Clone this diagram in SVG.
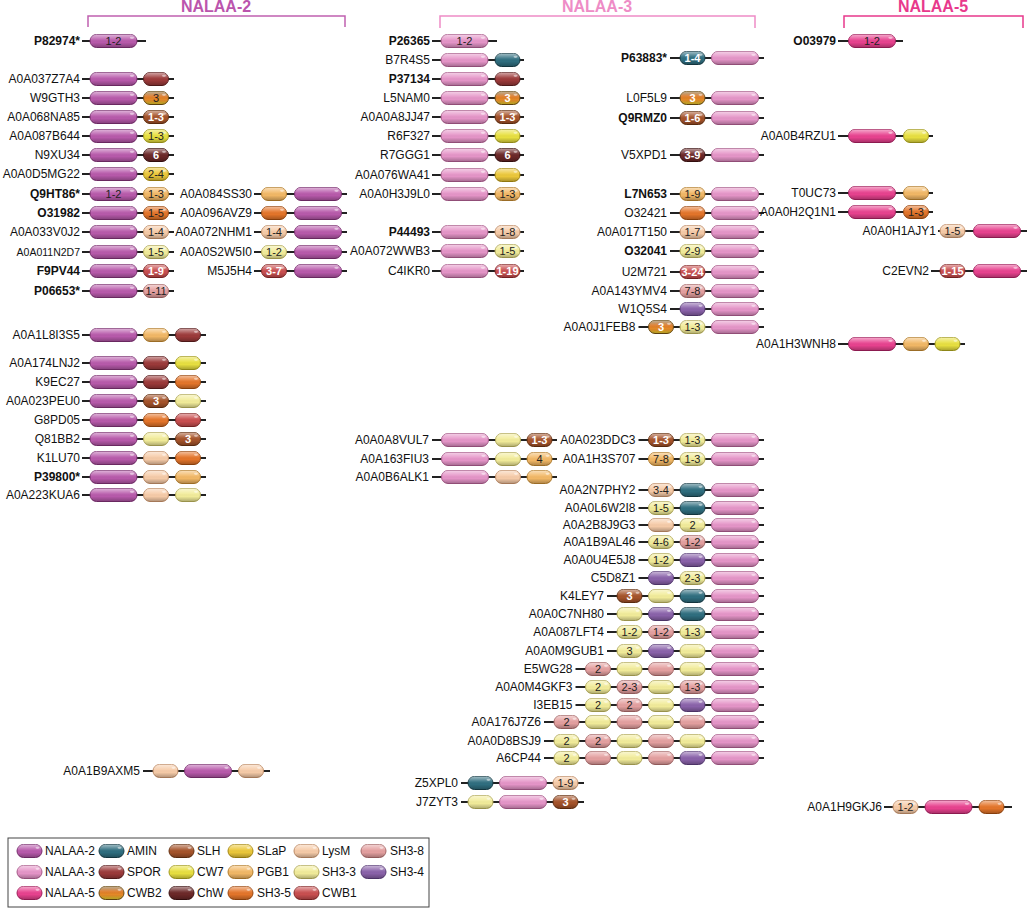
<svg xmlns="http://www.w3.org/2000/svg" xmlns:xlink="http://www.w3.org/1999/xlink" width="1028" height="910" viewBox="0 0 1028 910">
<style>
.lb{font-family:"Liberation Sans",Arial,sans-serif;font-size:12px;fill:#111;text-anchor:end}
.b{font-weight:bold}
.n{font-family:"Liberation Sans",Arial,sans-serif;font-size:11px;fill:#222;text-anchor:middle}
.w{fill:#fff;font-weight:bold}
.lg{font-family:"Liberation Sans",Arial,sans-serif;font-size:12px;fill:#111}
.t{font-family:"Liberation Sans",Arial,sans-serif;font-size:16px;font-weight:bold;text-anchor:middle}
.br{fill:none;stroke-width:1.5}
</style>
<defs>
<linearGradient id="gl" x1="0" y1="0" x2="0" y2="1">
<stop offset="0" stop-color="#fff" stop-opacity="0.55"/>
<stop offset="0.4" stop-color="#fff" stop-opacity="0.08"/>
<stop offset="0.6" stop-color="#000" stop-opacity="0"/>
<stop offset="1" stop-color="#000" stop-opacity="0.28"/>
</linearGradient>
<linearGradient id="cw2" x1="0" y1="0" x2="0" y2="1">
<stop offset="0" stop-color="#7a5214"/>
<stop offset="0.35" stop-color="#dc7420"/>
<stop offset="0.7" stop-color="#e8902a"/>
<stop offset="1" stop-color="#f4e030"/>
</linearGradient>
<rect id="pS" width="25" height="13" rx="6.5"/>
<rect id="pM" width="47" height="13" rx="6.5"/>
<g id="hS"><use href="#pS" fill="url(#gl)" stroke="none"/><ellipse cx="20.5" cy="3.3" rx="2" ry="1.1" fill="#fff" opacity=".5"/></g>
<g id="hM"><use href="#pM" fill="url(#gl)" stroke="none"/><ellipse cx="42" cy="3.3" rx="2.2" ry="1.1" fill="#fff" opacity=".5"/></g>
<g id="M2"><use href="#pM" fill="#b85aab" stroke="#7a2e70"/><use href="#hM"/></g>
<g id="M3"><use href="#pM" fill="#e595c8" stroke="#a85a8a"/><use href="#hM"/></g>
<g id="M5"><use href="#pM" fill="#e8428f" stroke="#a21e5c"/><use href="#hM"/></g>
<g id="N2"><use href="#pS" fill="#b85aab" stroke="#7a2e70"/><use href="#hS"/></g>
<g id="N3"><use href="#pS" fill="#e595c8" stroke="#a85a8a"/><use href="#hS"/></g>
<g id="N5"><use href="#pS" fill="#e8428f" stroke="#a21e5c"/><use href="#hS"/></g>
<g id="AMIN"><use href="#pS" fill="#2f6e7f" stroke="#163c47"/><use href="#hS"/></g>
<g id="SPOR"><use href="#pS" fill="#9c3a3a" stroke="#5a1c1c"/><use href="#hS"/></g>
<g id="CWB2"><use href="#pS" fill="url(#cw2)" stroke="#6a4a10"/><use href="#hS"/></g>
<g id="SLH"><use href="#pS" fill="#a5532a" stroke="#66300f"/><use href="#hS"/></g>
<g id="CW7"><use href="#pS" fill="#e8e040" stroke="#a49c1c"/><use href="#hS"/></g>
<g id="ChW"><use href="#pS" fill="#6c2828" stroke="#3a0f0f"/><use href="#hS"/></g>
<g id="SLaP"><use href="#pS" fill="#ecc83a" stroke="#a88a10"/><use href="#hS"/></g>
<g id="PGB1"><use href="#pS" fill="#f2b866" stroke="#b47e2c"/><use href="#hS"/></g>
<g id="SH35"><use href="#pS" fill="#e4752a" stroke="#9c480e"/><use href="#hS"/></g>
<g id="LysM"><use href="#pS" fill="#f6cba8" stroke="#bf8c66"/><use href="#hS"/></g>
<g id="SH33"><use href="#pS" fill="#f2ec9a" stroke="#b2aa58"/><use href="#hS"/></g>
<g id="CWB1"><use href="#pS" fill="#c94f50" stroke="#862828"/><use href="#hS"/></g>
<g id="SH38"><use href="#pS" fill="#e4a0a0" stroke="#a66868"/><use href="#hS"/></g>
<g id="SH34"><use href="#pS" fill="#8a62aa" stroke="#573a76"/><use href="#hS"/></g>
</defs>
<rect width="1028" height="910" fill="#fff"/>

<g id="headers">
<text class="t" x="216" y="12" fill="#bb55ad">NALAA-2</text>
<path class="br" d="M88 27V16H345V27" stroke="#c060b0"/>
<text class="t" x="597" y="12" fill="#ee8cc6">NALAA-3</text>
<path class="br" d="M440 28V16H755V28" stroke="#ee8cc6"/>
<text class="t" x="933" y="12" fill="#e8398c">NALAA-5</text>
<path class="br" d="M844 28V16H1023V28" stroke="#e8398c"/>
</g>

<g id="connectors" stroke="#222" stroke-width="2">
<line x1="82" y1="41" x2="146" y2="41"/>
<line x1="82" y1="79" x2="174" y2="79"/>
<line x1="82" y1="98" x2="174" y2="98"/>
<line x1="82" y1="117" x2="174" y2="117"/>
<line x1="82" y1="136" x2="174" y2="136"/>
<line x1="82" y1="155" x2="174" y2="155"/>
<line x1="82" y1="174" x2="174" y2="174"/>
<line x1="82" y1="194" x2="174" y2="194"/>
<line x1="82" y1="213" x2="174" y2="213"/>
<line x1="82" y1="232" x2="174" y2="232"/>
<line x1="82" y1="252" x2="174" y2="252"/>
<line x1="82" y1="271" x2="174" y2="271"/>
<line x1="82" y1="291" x2="174" y2="291"/>
<line x1="82" y1="335" x2="206" y2="335"/>
<line x1="82" y1="363" x2="206" y2="363"/>
<line x1="82" y1="382" x2="206" y2="382"/>
<line x1="82" y1="401" x2="206" y2="401"/>
<line x1="82" y1="420" x2="206" y2="420"/>
<line x1="82" y1="439" x2="206" y2="439"/>
<line x1="82" y1="458" x2="206" y2="458"/>
<line x1="82" y1="477" x2="206" y2="477"/>
<line x1="82" y1="495" x2="206" y2="495"/>
<line x1="143" y1="771" x2="270" y2="771"/>
<line x1="254" y1="194" x2="347" y2="194"/>
<line x1="254" y1="213" x2="347" y2="213"/>
<line x1="254" y1="232" x2="347" y2="232"/>
<line x1="254" y1="252" x2="347" y2="252"/>
<line x1="254" y1="271" x2="347" y2="271"/>
<line x1="432" y1="41" x2="497" y2="41"/>
<line x1="432" y1="60" x2="524" y2="60"/>
<line x1="432" y1="79" x2="524" y2="79"/>
<line x1="432" y1="98" x2="524" y2="98"/>
<line x1="432" y1="117" x2="524" y2="117"/>
<line x1="432" y1="136" x2="524" y2="136"/>
<line x1="432" y1="155" x2="524" y2="155"/>
<line x1="432" y1="175" x2="524" y2="175"/>
<line x1="432" y1="194" x2="524" y2="194"/>
<line x1="432" y1="232" x2="524" y2="232"/>
<line x1="432" y1="251" x2="524" y2="251"/>
<line x1="432" y1="271" x2="524" y2="271"/>
<line x1="432" y1="440" x2="557" y2="440"/>
<line x1="432" y1="459" x2="557" y2="459"/>
<line x1="432" y1="477" x2="557" y2="477"/>
<line x1="461" y1="783" x2="584" y2="783"/>
<line x1="461" y1="802" x2="584" y2="802"/>
<line x1="670" y1="58" x2="764" y2="58"/>
<line x1="670" y1="98" x2="764" y2="98"/>
<line x1="670" y1="118" x2="764" y2="118"/>
<line x1="670" y1="155" x2="764" y2="155"/>
<line x1="670" y1="194" x2="764" y2="194"/>
<line x1="670" y1="213" x2="764" y2="213"/>
<line x1="670" y1="232" x2="764" y2="232"/>
<line x1="670" y1="251" x2="764" y2="251"/>
<line x1="670" y1="272" x2="764" y2="272"/>
<line x1="670" y1="291" x2="764" y2="291"/>
<line x1="670" y1="309" x2="764" y2="309"/>
<line x1="638.5" y1="327" x2="764" y2="327"/>
<line x1="638.5" y1="440" x2="764" y2="440"/>
<line x1="638.5" y1="459" x2="764" y2="459"/>
<line x1="638.5" y1="490" x2="764" y2="490"/>
<line x1="638.5" y1="508" x2="764" y2="508"/>
<line x1="638.5" y1="525" x2="764" y2="525"/>
<line x1="638.5" y1="542" x2="764" y2="542"/>
<line x1="638.5" y1="560" x2="764" y2="560"/>
<line x1="638.5" y1="578" x2="764" y2="578"/>
<line x1="607" y1="596" x2="764" y2="596"/>
<line x1="607" y1="614" x2="764" y2="614"/>
<line x1="607" y1="632" x2="764" y2="632"/>
<line x1="607" y1="651" x2="764" y2="651"/>
<line x1="575.5" y1="669" x2="764" y2="669"/>
<line x1="575.5" y1="687" x2="764" y2="687"/>
<line x1="575.5" y1="705" x2="764" y2="705"/>
<line x1="544" y1="722" x2="764" y2="722"/>
<line x1="544" y1="741" x2="764" y2="741"/>
<line x1="544" y1="758" x2="764" y2="758"/>
<line x1="838" y1="41" x2="903" y2="41"/>
<line x1="838" y1="136" x2="933" y2="136"/>
<line x1="838" y1="193" x2="933" y2="193"/>
<line x1="838" y1="212" x2="933" y2="212"/>
<line x1="938" y1="231" x2="1027" y2="231"/>
<line x1="931" y1="271" x2="1027" y2="271"/>
<line x1="838" y1="344" x2="965" y2="344"/>
<line x1="884" y1="807" x2="1012" y2="807"/>
</g>

<g id="nalaa2-col1">
<g id="P82974"><text class="lb b" x="80" y="45">P82974*</text><use href="#M2" x="90" y="34.5"/><text class="n" x="113.5" y="45">1-2</text></g>
<g id="A0A037Z7A4"><text class="lb" x="80" y="83">A0A037Z7A4</text><use href="#M2" x="90" y="72.5"/><use href="#SPOR" x="143.5" y="72.5"/></g>
<g id="W9GTH3"><text class="lb" x="80" y="102">W9GTH3</text><use href="#M2" x="90" y="91.5"/><use href="#CWB2" x="143.5" y="91.5"/><text class="n" x="156" y="102">3</text></g>
<g id="A0A068NA85"><text class="lb" x="80" y="121">A0A068NA85</text><use href="#M2" x="90" y="110.5"/><use href="#SLH" x="143.5" y="110.5"/><text class="n w" x="156" y="121">1-3</text></g>
<g id="A0A087B644"><text class="lb" x="80" y="140">A0A087B644</text><use href="#M2" x="90" y="129.5"/><use href="#CW7" x="143.5" y="129.5"/><text class="n" x="156" y="140">1-3</text></g>
<g id="N9XU34"><text class="lb" x="80" y="159">N9XU34</text><use href="#M2" x="90" y="148.5"/><use href="#ChW" x="143.5" y="148.5"/><text class="n w" x="156" y="159">6</text></g>
<g id="A0A0D5MG22"><text class="lb" x="80" y="178">A0A0D5MG22</text><use href="#M2" x="90" y="167.5"/><use href="#SLaP" x="143.5" y="167.5"/><text class="n" x="156" y="178">2-4</text></g>
<g id="Q9HT86"><text class="lb b" x="80" y="198">Q9HT86*</text><use href="#M2" x="90" y="187.5"/><text class="n" x="113.5" y="198">1-2</text><use href="#PGB1" x="143.5" y="187.5"/><text class="n" x="156" y="198">1-3</text></g>
<g id="O31982"><text class="lb b" x="80" y="217">O31982</text><use href="#M2" x="90" y="206.5"/><use href="#SH35" x="143.5" y="206.5"/><text class="n" x="156" y="217">1-5</text></g>
<g id="A0A033V0J2"><text class="lb" x="80" y="236">A0A033V0J2</text><use href="#M2" x="90" y="225.5"/><use href="#LysM" x="143.5" y="225.5"/><text class="n" x="156" y="236">1-4</text></g>
<g id="A0A011N2D7"><text class="lb" x="80" y="256" style="font-size:10.5px">A0A011N2D7</text><use href="#M2" x="90" y="245.5"/><use href="#SH33" x="143.5" y="245.5"/><text class="n" x="156" y="256">1-5</text></g>
<g id="F9PV44"><text class="lb b" x="80" y="275">F9PV44</text><use href="#M2" x="90" y="264.5"/><use href="#CWB1" x="143.5" y="264.5"/><text class="n w" x="156" y="275">1-9</text></g>
<g id="P06653"><text class="lb b" x="80" y="295">P06653*</text><use href="#M2" x="90" y="284.5"/><use href="#SH38" x="143.5" y="284.5"/><text class="n" x="156" y="295">1-11</text></g>
<g id="A0A1L8I3S5"><text class="lb" x="80" y="339">A0A1L8I3S5</text><use href="#M2" x="90" y="328.5"/><use href="#PGB1" x="143.5" y="328.5"/><use href="#SPOR" x="175.5" y="328.5"/></g>
<g id="A0A174LNJ2"><text class="lb" x="80" y="367">A0A174LNJ2</text><use href="#M2" x="90" y="356.5"/><use href="#SPOR" x="143.5" y="356.5"/><use href="#CW7" x="175.5" y="356.5"/></g>
<g id="K9EC27"><text class="lb" x="80" y="386">K9EC27</text><use href="#M2" x="90" y="375.5"/><use href="#SPOR" x="143.5" y="375.5"/><use href="#SH35" x="175.5" y="375.5"/></g>
<g id="A0A023PEU0"><text class="lb" x="80" y="405">A0A023PEU0</text><use href="#M2" x="90" y="394.5"/><use href="#SLH" x="143.5" y="394.5"/><text class="n w" x="156" y="405">3</text><use href="#SH33" x="175.5" y="394.5"/></g>
<g id="G8PD05"><text class="lb" x="80" y="424">G8PD05</text><use href="#M2" x="90" y="413.5"/><use href="#SH35" x="143.5" y="413.5"/><use href="#CWB1" x="175.5" y="413.5"/></g>
<g id="Q81BB2"><text class="lb" x="80" y="443">Q81BB2</text><use href="#M2" x="90" y="432.5"/><use href="#SH33" x="143.5" y="432.5"/><use href="#SLH" x="175.5" y="432.5"/><text class="n w" x="188" y="443">3</text></g>
<g id="K1LU70"><text class="lb" x="80" y="462">K1LU70</text><use href="#M2" x="90" y="451.5"/><use href="#LysM" x="143.5" y="451.5"/><use href="#SH35" x="175.5" y="451.5"/></g>
<g id="P39800"><text class="lb b" x="80" y="481">P39800*</text><use href="#M2" x="90" y="470.5"/><use href="#LysM" x="143.5" y="470.5"/><use href="#PGB1" x="175.5" y="470.5"/></g>
<g id="A0A223KUA6"><text class="lb" x="80" y="499">A0A223KUA6</text><use href="#M2" x="90" y="488.5"/><use href="#LysM" x="143.5" y="488.5"/><use href="#SH33" x="175.5" y="488.5"/></g>
<g id="A0A1B9AXM5"><text class="lb" x="140" y="775">A0A1B9AXM5</text><use href="#LysM" x="153" y="764.5"/><use href="#M2" x="184.5" y="764.5"/><use href="#LysM" x="238.5" y="764.5"/></g>
</g>

<g id="nalaa2-col2">
<g id="A0A084SS30"><text class="lb" x="252" y="198">A0A084SS30</text><use href="#PGB1" x="261.5" y="187.5"/><use href="#M2" x="294.5" y="187.5"/></g>
<g id="A0A096AVZ9"><text class="lb" x="252" y="217">A0A096AVZ9</text><use href="#SH35" x="261.5" y="206.5"/><use href="#M2" x="294.5" y="206.5"/></g>
<g id="A0A072NHM1"><text class="lb" x="252" y="236">A0A072NHM1</text><use href="#LysM" x="261.5" y="225.5"/><text class="n" x="274" y="236">1-4</text><use href="#M2" x="294.5" y="225.5"/></g>
<g id="A0A0S2W5I0"><text class="lb" x="252" y="256">A0A0S2W5I0</text><use href="#SH33" x="261.5" y="245.5"/><text class="n" x="274" y="256">1-2</text><use href="#M2" x="294.5" y="245.5"/></g>
<g id="M5J5H4"><text class="lb" x="252" y="275">M5J5H4</text><use href="#CWB1" x="261.5" y="264.5"/><text class="n w" x="274" y="275">3-7</text><use href="#M2" x="294.5" y="264.5"/></g>
</g>

<g id="nalaa3-col1">
<g id="P26365"><text class="lb b" x="430" y="45">P26365</text><use href="#M3" x="441" y="34.5"/><text class="n" x="464.5" y="45">1-2</text></g>
<g id="B7R4S5"><text class="lb" x="430" y="64">B7R4S5</text><use href="#M3" x="441" y="53.5"/><use href="#AMIN" x="495" y="53.5"/></g>
<g id="P37134"><text class="lb b" x="430" y="83">P37134</text><use href="#M3" x="441" y="72.5"/><use href="#SPOR" x="495" y="72.5"/></g>
<g id="L5NAM0"><text class="lb" x="430" y="102">L5NAM0</text><use href="#M3" x="441" y="91.5"/><use href="#CWB2" x="495" y="91.5"/><text class="n w" x="507.5" y="102">3</text></g>
<g id="A0A0A8JJ47"><text class="lb" x="430" y="121">A0A0A8JJ47</text><use href="#M3" x="441" y="110.5"/><use href="#SLH" x="495" y="110.5"/><text class="n w" x="507.5" y="121">1-3</text></g>
<g id="R6F327"><text class="lb" x="430" y="140">R6F327</text><use href="#M3" x="441" y="129.5"/><use href="#CW7" x="495" y="129.5"/></g>
<g id="R7GGG1"><text class="lb" x="430" y="159">R7GGG1</text><use href="#M3" x="441" y="148.5"/><use href="#ChW" x="495" y="148.5"/><text class="n w" x="507.5" y="159">6</text></g>
<g id="A0A076WA41"><text class="lb" x="430" y="179">A0A076WA41</text><use href="#M3" x="441" y="168.5"/><use href="#SLaP" x="495" y="168.5"/></g>
<g id="A0A0H3J9L0"><text class="lb" x="430" y="198">A0A0H3J9L0</text><use href="#M3" x="441" y="187.5"/><use href="#PGB1" x="495" y="187.5"/><text class="n" x="507.5" y="198">1-3</text></g>
<g id="P44493"><text class="lb b" x="430" y="236">P44493</text><use href="#M3" x="441" y="225.5"/><use href="#LysM" x="495" y="225.5"/><text class="n" x="507.5" y="236">1-8</text></g>
<g id="A0A072WWB3"><text class="lb" x="430" y="255">A0A072WWB3</text><use href="#M3" x="441" y="244.5"/><use href="#SH33" x="495" y="244.5"/><text class="n" x="507.5" y="255">1-5</text></g>
<g id="C4IKR0"><text class="lb" x="430" y="275">C4IKR0</text><use href="#M3" x="441" y="264.5"/><use href="#CWB1" x="495" y="264.5"/><text class="n w" x="507.5" y="275">1-19</text></g>
<g id="A0A0A8VUL7"><text class="lb" x="429" y="444">A0A0A8VUL7</text><use href="#M3" x="441.5" y="433.5"/><use href="#SH33" x="495.5" y="433.5"/><use href="#SLH" x="527" y="433.5"/><text class="n w" x="539.5" y="444">1-3</text></g>
<g id="A0A163FIU3"><text class="lb" x="429" y="463">A0A163FIU3</text><use href="#M3" x="441.5" y="452.5"/><use href="#SH33" x="495.5" y="452.5"/><use href="#PGB1" x="527" y="452.5"/><text class="n" x="539.5" y="463">4</text></g>
<g id="A0A0B6ALK1"><text class="lb" x="429" y="481">A0A0B6ALK1</text><use href="#M3" x="441.5" y="470.5"/><use href="#LysM" x="495.5" y="470.5"/><use href="#PGB1" x="527" y="470.5"/></g>
<g id="Z5XPL0"><text class="lb" x="458" y="787">Z5XPL0</text><use href="#AMIN" x="468" y="776.5"/><use href="#M3" x="499.5" y="776.5"/><use href="#LysM" x="553" y="776.5"/><text class="n" x="565.5" y="787">1-9</text></g>
<g id="J7ZYT3"><text class="lb" x="458" y="806">J7ZYT3</text><use href="#SH33" x="468" y="795.5"/><use href="#M3" x="499.5" y="795.5"/><use href="#SLH" x="553" y="795.5"/><text class="n w" x="565.5" y="806">3</text></g>
</g>

<g id="nalaa3-col2">
<g id="P63883"><text class="lb b" x="667" y="62">P63883*</text><use href="#AMIN" x="680" y="51.5"/><text class="n w" x="692.5" y="62">1-4</text><use href="#M3" x="711.5" y="51.5"/></g>
<g id="L0F5L9"><text class="lb" x="667" y="102">L0F5L9</text><use href="#CWB2" x="680" y="91.5"/><text class="n w" x="692.5" y="102">3</text><use href="#M3" x="711.5" y="91.5"/></g>
<g id="Q9RMZ0"><text class="lb b" x="667" y="122">Q9RMZ0</text><use href="#SLH" x="680" y="111.5"/><text class="n w" x="692.5" y="122">1-6</text><use href="#M3" x="711.5" y="111.5"/></g>
<g id="V5XPD1"><text class="lb" x="667" y="159">V5XPD1</text><use href="#ChW" x="680" y="148.5"/><text class="n w" x="692.5" y="159">3-9</text><use href="#M3" x="711.5" y="148.5"/></g>
<g id="L7N653"><text class="lb b" x="667" y="198">L7N653</text><use href="#PGB1" x="680" y="187.5"/><text class="n" x="692.5" y="198">1-9</text><use href="#M3" x="711.5" y="187.5"/></g>
<g id="O32421"><text class="lb" x="667" y="217">O32421</text><use href="#SH35" x="680" y="206.5"/><use href="#M3" x="711.5" y="206.5"/></g>
<g id="A0A017T150"><text class="lb" x="667" y="236">A0A017T150</text><use href="#LysM" x="680" y="225.5"/><text class="n" x="692.5" y="236">1-7</text><use href="#M3" x="711.5" y="225.5"/></g>
<g id="O32041"><text class="lb b" x="667" y="255">O32041</text><use href="#SH33" x="680" y="244.5"/><text class="n" x="692.5" y="255">2-9</text><use href="#M3" x="711.5" y="244.5"/></g>
<g id="U2M721"><text class="lb" x="667" y="276">U2M721</text><use href="#CWB1" x="680" y="265.5"/><text class="n w" x="692.5" y="276">3-24</text><use href="#M3" x="711.5" y="265.5"/></g>
<g id="A0A143YMV4"><text class="lb" x="667" y="295">A0A143YMV4</text><use href="#SH38" x="680" y="284.5"/><text class="n" x="692.5" y="295">7-8</text><use href="#M3" x="711.5" y="284.5"/></g>
<g id="W1Q5S4"><text class="lb" x="667" y="313">W1Q5S4</text><use href="#SH34" x="680" y="302.5"/><use href="#M3" x="711.5" y="302.5"/></g>
<g id="A0A0J1FEB8"><text class="lb" x="635.5" y="331">A0A0J1FEB8</text><use href="#CWB2" x="648.5" y="320.5"/><text class="n w" x="661" y="331">3</text><use href="#SH33" x="680" y="320.5"/><text class="n" x="692.5" y="331">1-3</text><use href="#M3" x="711.5" y="320.5"/></g>
<g id="A0A023DDC3"><text class="lb" x="635.5" y="444">A0A023DDC3</text><use href="#SLH" x="648.5" y="433.5"/><text class="n w" x="661" y="444">1-3</text><use href="#SH33" x="680" y="433.5"/><text class="n" x="692.5" y="444">1-3</text><use href="#M3" x="711.5" y="433.5"/></g>
<g id="A0A1H3S707"><text class="lb" x="635.5" y="463">A0A1H3S707</text><use href="#PGB1" x="648.5" y="452.5"/><text class="n" x="661" y="463">7-8</text><use href="#SH33" x="680" y="452.5"/><text class="n" x="692.5" y="463">1-3</text><use href="#M3" x="711.5" y="452.5"/></g>
<g id="A0A2N7PHY2"><text class="lb" x="635.5" y="494">A0A2N7PHY2</text><use href="#LysM" x="648.5" y="483.5"/><text class="n" x="661" y="494">3-4</text><use href="#AMIN" x="680" y="483.5"/><use href="#M3" x="711.5" y="483.5"/></g>
<g id="A0A0L6W2I8"><text class="lb" x="635.5" y="512">A0A0L6W2I8</text><use href="#SH33" x="648.5" y="501.5"/><text class="n" x="661" y="512">1-5</text><use href="#AMIN" x="680" y="501.5"/><use href="#M3" x="711.5" y="501.5"/></g>
<g id="A0A2B8J9G3"><text class="lb" x="635.5" y="529">A0A2B8J9G3</text><use href="#LysM" x="648.5" y="518.5"/><use href="#SH33" x="680" y="518.5"/><text class="n" x="692.5" y="529">2</text><use href="#M3" x="711.5" y="518.5"/></g>
<g id="A0A1B9AL46"><text class="lb" x="635.5" y="546">A0A1B9AL46</text><use href="#SH33" x="648.5" y="535.5"/><text class="n" x="661" y="546">4-6</text><use href="#SH38" x="680" y="535.5"/><text class="n" x="692.5" y="546">1-2</text><use href="#M3" x="711.5" y="535.5"/></g>
<g id="A0A0U4E5J8"><text class="lb" x="635.5" y="564">A0A0U4E5J8</text><use href="#SH33" x="648.5" y="553.5"/><text class="n" x="661" y="564">1-2</text><use href="#SH34" x="680" y="553.5"/><use href="#M3" x="711.5" y="553.5"/></g>
<g id="C5D8Z1"><text class="lb" x="635.5" y="582">C5D8Z1</text><use href="#SH34" x="648.5" y="571.5"/><use href="#SH33" x="680" y="571.5"/><text class="n" x="692.5" y="582">2-3</text><use href="#M3" x="711.5" y="571.5"/></g>
<g id="K4LEY7"><text class="lb" x="604" y="600">K4LEY7</text><use href="#SLH" x="617" y="589.5"/><text class="n w" x="629.5" y="600">3</text><use href="#SH33" x="648.5" y="589.5"/><use href="#AMIN" x="680" y="589.5"/><use href="#M3" x="711.5" y="589.5"/></g>
<g id="A0A0C7NH80"><text class="lb" x="604" y="618">A0A0C7NH80</text><use href="#SH33" x="617" y="607.5"/><use href="#SH34" x="648.5" y="607.5"/><use href="#AMIN" x="680" y="607.5"/><use href="#M3" x="711.5" y="607.5"/></g>
<g id="A0A087LFT4"><text class="lb" x="604" y="636">A0A087LFT4</text><use href="#SH33" x="617" y="625.5"/><text class="n" x="629.5" y="636">1-2</text><use href="#SH38" x="648.5" y="625.5"/><text class="n" x="661" y="636">1-2</text><use href="#SH33" x="680" y="625.5"/><text class="n" x="692.5" y="636">1-3</text><use href="#M3" x="711.5" y="625.5"/></g>
<g id="A0A0M9GUB1"><text class="lb" x="604" y="655">A0A0M9GUB1</text><use href="#SH33" x="617" y="644.5"/><text class="n" x="629.5" y="655">3</text><use href="#SH34" x="648.5" y="644.5"/><use href="#SH33" x="680" y="644.5"/><use href="#M3" x="711.5" y="644.5"/></g>
<g id="E5WG28"><text class="lb" x="572.5" y="673">E5WG28</text><use href="#SH38" x="585.5" y="662.5"/><text class="n" x="598" y="673">2</text><use href="#SH33" x="617" y="662.5"/><use href="#SH38" x="648.5" y="662.5"/><use href="#SH33" x="680" y="662.5"/><use href="#M3" x="711.5" y="662.5"/></g>
<g id="A0A0M4GKF3"><text class="lb" x="572.5" y="691">A0A0M4GKF3</text><use href="#SH33" x="585.5" y="680.5"/><text class="n" x="598" y="691">2</text><use href="#SH38" x="617" y="680.5"/><text class="n" x="629.5" y="691">2-3</text><use href="#SH33" x="648.5" y="680.5"/><use href="#SH38" x="680" y="680.5"/><text class="n" x="692.5" y="691">1-3</text><use href="#M3" x="711.5" y="680.5"/></g>
<g id="I3EB15"><text class="lb" x="572.5" y="709">I3EB15</text><use href="#SH33" x="585.5" y="698.5"/><text class="n" x="598" y="709">2</text><use href="#SH38" x="617" y="698.5"/><text class="n" x="629.5" y="709">2</text><use href="#SH33" x="648.5" y="698.5"/><use href="#SH34" x="680" y="698.5"/><use href="#M3" x="711.5" y="698.5"/></g>
<g id="A0A176J7Z6"><text class="lb" x="541" y="726">A0A176J7Z6</text><use href="#SH38" x="554" y="715.5"/><text class="n" x="566.5" y="726">2</text><use href="#SH33" x="585.5" y="715.5"/><use href="#SH38" x="617" y="715.5"/><use href="#SH33" x="648.5" y="715.5"/><use href="#SH38" x="680" y="715.5"/><use href="#M3" x="711.5" y="715.5"/></g>
<g id="A0A0D8BSJ9"><text class="lb" x="541" y="745">A0A0D8BSJ9</text><use href="#SH33" x="554" y="734.5"/><text class="n" x="566.5" y="745">2</text><use href="#SH38" x="585.5" y="734.5"/><text class="n" x="598" y="745">2</text><use href="#SH33" x="617" y="734.5"/><use href="#SH38" x="648.5" y="734.5"/><use href="#SH33" x="680" y="734.5"/><use href="#M3" x="711.5" y="734.5"/></g>
<g id="A6CP44"><text class="lb" x="541" y="762">A6CP44</text><use href="#SH33" x="554" y="751.5"/><text class="n" x="566.5" y="762">2</text><use href="#SH38" x="585.5" y="751.5"/><use href="#SH33" x="617" y="751.5"/><use href="#SH38" x="648.5" y="751.5"/><use href="#SH34" x="680" y="751.5"/><use href="#M3" x="711.5" y="751.5"/></g>
</g>

<g id="nalaa5-col">
<g id="O03979"><text class="lb b" x="836" y="45">O03979</text><use href="#M5" x="848.5" y="34.5"/><text class="n" x="872" y="45">1-2</text></g>
<g id="A0A0B4RZU1"><text class="lb" x="836" y="140">A0A0B4RZU1</text><use href="#M5" x="848.5" y="129.5"/><use href="#CW7" x="903.5" y="129.5"/></g>
<g id="T0UC73"><text class="lb" x="836" y="197">T0UC73</text><use href="#M5" x="848.5" y="186.5"/><use href="#PGB1" x="903.5" y="186.5"/></g>
<g id="A0A0H2Q1N1"><text class="lb" x="836" y="216">A0A0H2Q1N1</text><use href="#M5" x="848.5" y="205.5"/><use href="#SH35" x="903.5" y="205.5"/><text class="n" x="916" y="216">1-3</text></g>
<g id="A0A0H1AJY1"><text class="lb" x="936" y="235">A0A0H1AJY1</text><use href="#LysM" x="940" y="224.5"/><text class="n" x="952.5" y="235">1-5</text><use href="#M5" x="973.5" y="224.5"/></g>
<g id="C2EVN2"><text class="lb" x="929" y="275">C2EVN2</text><use href="#CWB1" x="940" y="264.5"/><text class="n w" x="952.5" y="275">1-15</text><use href="#M5" x="973.5" y="264.5"/></g>
<g id="A0A1H3WNH8"><text class="lb" x="836" y="348">A0A1H3WNH8</text><use href="#M5" x="848.5" y="337.5"/><use href="#PGB1" x="903.5" y="337.5"/><use href="#CW7" x="935" y="337.5"/></g>
<g id="A0A1H9GKJ6"><text class="lb" x="882" y="811">A0A1H9GKJ6</text><use href="#LysM" x="893" y="800.5"/><text class="n" x="905.5" y="811">1-2</text><use href="#M5" x="925" y="800.5"/><use href="#SH35" x="979" y="800.5"/></g>
</g>

<g id="legend">
<rect x="8" y="838" width="421" height="69" fill="#fff" stroke="#444" stroke-width="1"/>
<use href="#N2" x="17" y="844.5"/><text class="lg" x="45" y="855">NALAA-2</text>
<use href="#AMIN" x="99" y="844.5"/><text class="lg" x="127" y="855">AMIN</text>
<use href="#SLH" x="169" y="844.5"/><text class="lg" x="197" y="855">SLH</text>
<use href="#SLaP" x="228" y="844.5"/><text class="lg" x="257" y="855">SLaP</text>
<use href="#LysM" x="294" y="844.5"/><text class="lg" x="322" y="855">LysM</text>
<use href="#SH38" x="361" y="844.5"/><text class="lg" x="390" y="855">SH3-8</text>
<use href="#N3" x="17" y="865.5"/><text class="lg" x="45" y="876">NALAA-3</text>
<use href="#SPOR" x="99" y="865.5"/><text class="lg" x="127" y="876">SPOR</text>
<use href="#CW7" x="169" y="865.5"/><text class="lg" x="197" y="876">CW7</text>
<use href="#PGB1" x="228" y="865.5"/><text class="lg" x="257" y="876">PGB1</text>
<use href="#SH33" x="294" y="865.5"/><text class="lg" x="322" y="876">SH3-3</text>
<use href="#SH34" x="361" y="865.5"/><text class="lg" x="390" y="876">SH3-4</text>
<use href="#N5" x="17" y="886.5"/><text class="lg" x="45" y="897">NALAA-5</text>
<use href="#CWB2" x="99" y="886.5"/><text class="lg" x="127" y="897">CWB2</text>
<use href="#ChW" x="169" y="886.5"/><text class="lg" x="197" y="897">ChW</text>
<use href="#SH35" x="228" y="886.5"/><text class="lg" x="257" y="897">SH3-5</text>
<use href="#CWB1" x="294" y="886.5"/><text class="lg" x="322" y="897">CWB1</text>
</g>
</svg>
